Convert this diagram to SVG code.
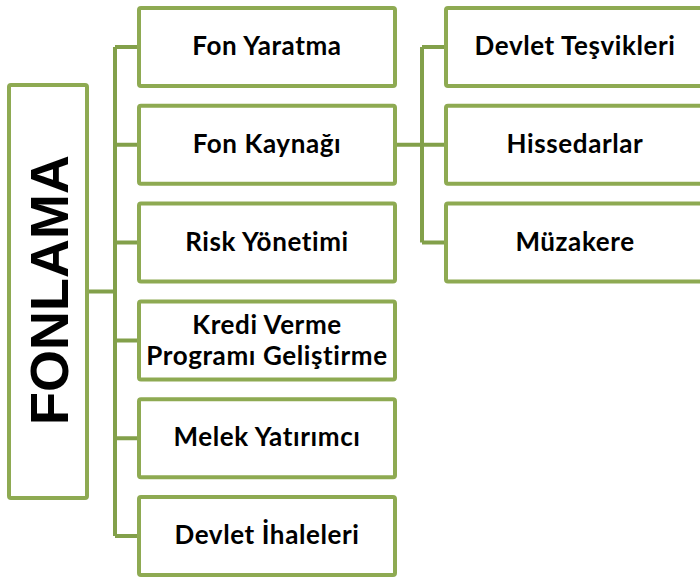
<svg xmlns="http://www.w3.org/2000/svg" width="700" height="580" viewBox="0 0 700 580">
<style>
.box{fill:#ffffff;stroke:#8eaa52;stroke-width:4}
.lbl{font-family:Lato,"Open Sans","Liberation Sans",sans-serif;font-weight:700;font-size:26px;letter-spacing:0.6px;fill:#000;text-anchor:middle}
.root{font-family:"Liberation Sans",Arial,sans-serif;font-weight:700;font-size:54px;fill:#000;text-anchor:middle}
.conn{fill:none;stroke:#82a04a;stroke-width:4}
</style>
<rect width="700" height="580" fill="#ffffff"/>
<g id="connectors">
<path class="conn" d="M89 291.5H115M115 47V536M115 47H139M115 144.8H139M115 242.6H139M115 340.4H139M115 438.2H139M115 536H139"/>
<path class="conn" d="M397 144.8H422M422 47V242.6M422 47H446M422 144.8H446M422 242.6H446"/>
</g>
<g id="node-fonlama">
<rect class="box" x="9" y="85" width="78" height="413" rx="2"/>
<text class="root" transform="translate(68,290) rotate(-90)" x="0" y="0">FONLAMA</text>
</g>
<g id="node-fon-yaratma">
<rect class="box" x="139" y="8" width="256" height="78" rx="2"/>
<text class="lbl" x="267" y="55">Fon Yaratma</text>
</g>
<g id="node-fon-kaynagi">
<rect class="box" x="139" y="105.8" width="256" height="78" rx="2"/>
<text class="lbl" x="267" y="153">Fon Kaynağı</text>
</g>
<g id="node-risk">
<rect class="box" x="139" y="203.6" width="256" height="78" rx="2"/>
<text class="lbl" x="267" y="251">Risk Yönetimi</text>
</g>
<g id="node-kredi">
<rect class="box" x="139" y="301.4" width="256" height="78" rx="2"/>
<text class="lbl" x="267" y="334">Kredi Verme</text>
<text class="lbl" x="267" y="365">Programı Geliştirme</text>
</g>
<g id="node-melek">
<rect class="box" x="139" y="399.2" width="256" height="78" rx="2"/>
<text class="lbl" x="267" y="446">Melek Yatırımcı</text>
</g>
<g id="node-devlet-ihaleleri">
<rect class="box" x="139" y="497" width="256" height="78" rx="2"/>
<text class="lbl" x="267" y="544">Devlet İhaleleri</text>
</g>
<g id="node-devlet-tesvikleri">
<rect class="box" x="446" y="8" width="258" height="78" rx="2"/>
<text class="lbl" x="575" y="55">Devlet Teşvikleri</text>
</g>
<g id="node-hissedarlar">
<rect class="box" x="446" y="105.8" width="258" height="78" rx="2"/>
<text class="lbl" x="575" y="153">Hissedarlar</text>
</g>
<g id="node-muzakere">
<rect class="box" x="446" y="203.6" width="258" height="78" rx="2"/>
<text class="lbl" x="575" y="251">Müzakere</text>
</g>
</svg>
